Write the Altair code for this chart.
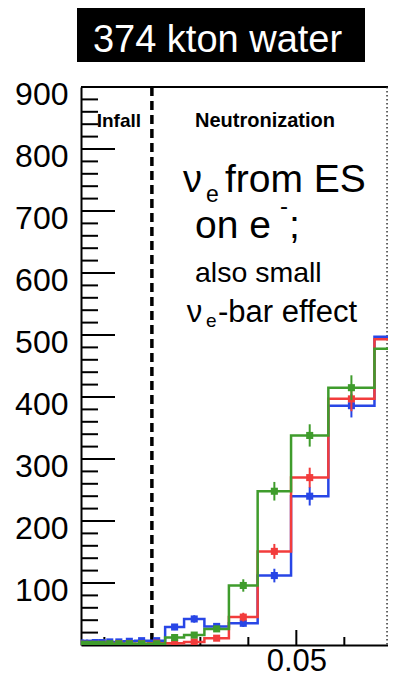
import altair as alt
import pandas as pd

# ---- data ----
edges = [0.00465, 0.00542, 0.00636, 0.00746, 0.00875, 0.01025, 0.01200, 0.01403,
         0.01638, 0.01914, 0.02266, 0.02661, 0.03084, 0.03595, 0.04194, 0.04890,
         0.05667, 0.06628, 0.0772]
blue_vals = [3, 3, 3, 4, 4, 5, 5, 6, 7, 7, 29, 42, 30, 35, 112, 240, 386, 497]
red_vals = [1, 1, 1, 1, 1, 1, 2, 2, 2, 3, 3, 5, 11, 45, 151, 270, 397, 493]
green_vals = [1, 1, 1, 1, 1, 2, 2, 2, 2, 2, 12, 16, 26, 96, 248, 338, 415, 478]
blue_err = [2, 2, 2, 2, 2, 2, 2, 2, 3, 3, 5, 6, 5, 6, 11, 15, 19, 22]
red_err = [1, 1, 1, 1, 1, 1, 1, 1, 1, 2, 2, 2, 3, 7, 12, 16, 20, 22]
green_err = [1, 1, 1, 1, 1, 1, 1, 1, 1, 1, 3, 4, 5, 10, 15, 18, 20, 22]

series = [("blue", blue_vals, blue_err, "#2846e6"),
          ("red", red_vals, red_err, "#f23c3c"),
          ("green", green_vals, green_err, "#3f9c2c")]

y_major = [100, 200, 300, 400, 500, 600, 700, 800, 900]
y_minor = [v for v in range(20, 900, 20) if v % 100 != 0]
x_major = [0.05]
x_minor = [0.01, 0.02, 0.03, 0.04, 0.06]
infall_boundary = 0.0199
accretion_boundary = 0.0689

X_DOMAIN = [0.00513, 0.0691]
Y_DOMAIN = [0, 900]
W, H = 307, 558
FONT = "Liberation Sans"

xs = alt.Scale(domain=X_DOMAIN, nice=False, zero=False)
ys = alt.Scale(domain=Y_DOMAIN, nice=False)

layers = []

# axes (labels + domain lines only)
axis_base = (
    alt.Chart(pd.DataFrame({"t": [0.05], "n": [0]}))
    .mark_point(opacity=0)
    .encode(
        x=alt.X("t:Q", scale=xs, axis=alt.Axis(values=x_major, format=".2f", title=None,
                ticks=False, tickSize=0, grid=False, labelFont=FONT, labelFontSize=31,
                labelColor="black", labelPadding=1, domainColor="black",
                domainWidth=2)),
        y=alt.Y("n:Q", scale=ys, axis=alt.Axis(values=y_major, title=None, ticks=False,
                tickSize=0, grid=False, labelFont=FONT, labelFontSize=32,
                labelColor="black", labelPadding=13, labelOffset=7,
                domainColor="black", domainWidth=2)),
    )
)
layers.append(axis_base)

# top frame
layers.append(
    alt.Chart(alt.Data(values=[{}])).mark_rule(color="black", strokeWidth=2)
    .encode(x=alt.value(0), x2=alt.value(W), y=alt.value(0))
)

# inside ticks on y
layers.append(
    alt.Chart(pd.DataFrame({"v": y_major})).mark_rule(color="black", strokeWidth=2)
    .encode(y=alt.Y("v:Q", scale=ys), x=alt.value(0), x2=alt.value(34))
)
layers.append(
    alt.Chart(pd.DataFrame({"v": y_minor})).mark_rule(color="black", strokeWidth=2)
    .encode(y=alt.Y("v:Q", scale=ys), x=alt.value(0), x2=alt.value(17))
)
# inside ticks on x
layers.append(
    alt.Chart(pd.DataFrame({"v": x_major})).mark_rule(color="black", strokeWidth=2)
    .encode(x=alt.X("v:Q", scale=xs), y=alt.value(H), y2=alt.value(H - 15))
)
layers.append(
    alt.Chart(pd.DataFrame({"v": x_minor})).mark_rule(color="black", strokeWidth=2)
    .encode(x=alt.X("v:Q", scale=xs), y=alt.value(H), y2=alt.value(H - 8))
)

# phase boundaries
layers.append(
    alt.Chart(pd.DataFrame({"v": [infall_boundary]}))
    .mark_rule(color="black", strokeWidth=3.5, strokeDash=[9, 5])
    .encode(x=alt.X("v:Q", scale=xs), y=alt.value(0), y2=alt.value(H))
)
layers.append(
    alt.Chart(pd.DataFrame({"v": [accretion_boundary]}))
    .mark_rule(color="#333333", strokeWidth=1.5, strokeDash=[1.5, 2.5])
    .encode(x=alt.X("v:Q", scale=xs), y=alt.value(0), y2=alt.value(H))
)

# histograms
for name, vals, errs, col in series:
    step_df = pd.DataFrame({"t": edges, "n": vals + [vals[-1]]})
    centers = [(edges[i] + edges[i + 1]) / 2 for i in range(len(vals))]
    pt_df = pd.DataFrame({"t": centers, "n": vals,
                          "lo": [v - e for v, e in zip(vals, errs)],
                          "hi": [v + e for v, e in zip(vals, errs)]})
    layers.append(
        alt.Chart(step_df).mark_line(interpolate="step-after", color=col,
                                     strokeWidth=2.5, clip=True)
        .encode(x=alt.X("t:Q", scale=xs), y=alt.Y("n:Q", scale=ys), order="t:Q")
    )
    layers.append(
        alt.Chart(pt_df).mark_rule(color=col, strokeWidth=2, clip=True)
        .encode(x=alt.X("t:Q", scale=xs), y=alt.Y("lo:Q", scale=ys), y2="hi:Q")
    )
    layers.append(
        alt.Chart(pt_df).mark_square(color=col, size=50, opacity=1, clip=True)
        .encode(x=alt.X("t:Q", scale=xs), y=alt.Y("n:Q", scale=ys))
    )

# title box
layers.append(
    alt.Chart(alt.Data(values=[{}])).mark_rect(color="black")
    .encode(x=alt.value(-4), x2=alt.value(284), y=alt.value(-79), y2=alt.value(-25))
)


def txt(s, x, y, size, bold=False, color="black", align="left"):
    return (
        alt.Chart(alt.Data(values=[{}]))
        .mark_text(text=s, font=FONT, fontSize=size, fontWeight="bold" if bold else "normal",
                   color=color, align=align, baseline="alphabetic")
        .encode(x=alt.value(x), y=alt.value(y))
    )


layers += [
    txt("374 kton water", 136.5, -35, 38, color="white", align="center"),
    txt("Infall", 15.7, 39.5, 19, bold=True),
    txt("Neutronization", 184, 39.5, 20, bold=True, align="center"),
    txt("ν", 102, 104.5, 38),
    txt("e", 125, 114.5, 23),
    txt("from ES", 144, 104.5, 39),
    txt("on e", 114, 151, 39),
    txt("-", 199, 126.5, 24),
    txt(";", 208, 151, 39),
    txt("also small", 114, 194.5, 28.5),
    txt("ν", 105.7, 234.5, 31),
    txt("e", 125, 240, 19),
    txt("-bar effect", 137, 234.5, 31),
]

chart = (
    alt.layer(*layers)
    .properties(width=W, height=H,
                autosize=alt.AutoSizeParams(type="none"),
                padding={"left": 73, "top": 79, "right": 0, "bottom": 30})
    .configure_view(strokeWidth=0)
)

chart.save("out.html", embed_options={"renderer": "svg", "actions": False})
